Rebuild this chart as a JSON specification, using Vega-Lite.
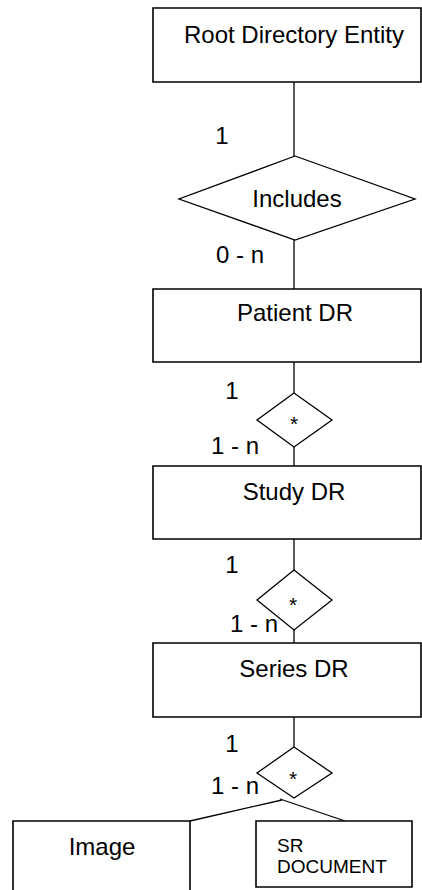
{
  "$schema": "https://vega.github.io/schema/vega-lite/v6.json",
  "width": 422,
  "height": 890,
  "padding": 0,
  "autosize": {"type": "none"},
  "background": "white",
  "config": {"view": {"stroke": null}, "font": "Liberation Sans"},
  "datasets": {
    "boxes": [
      {"name": "Root", "x": 153, "x2": 421, "y": 8, "y2": 82},
      {"name": "Patient", "x": 153, "x2": 421, "y": 289, "y2": 362},
      {"name": "Study", "x": 153, "x2": 421, "y": 466, "y2": 539},
      {"name": "Series", "x": 153, "x2": 421, "y": 643, "y2": 717},
      {"name": "Image", "x": 13, "x2": 190, "y": 821, "y2": 905},
      {"name": "SR", "x": 256, "x2": 412, "y": 821, "y2": 887}
    ],
    "links": [
      {"x": 294, "y": 82, "x2": 294, "y2": 156},
      {"x": 294, "y": 240, "x2": 294, "y2": 289},
      {"x": 294, "y": 362, "x2": 294, "y2": 393},
      {"x": 294, "y": 447, "x2": 294, "y2": 466},
      {"x": 294, "y": 539, "x2": 294, "y2": 570},
      {"x": 294, "y": 630, "x2": 294, "y2": 643},
      {"x": 294, "y": 717, "x2": 294, "y2": 747},
      {"x": 282, "y": 800, "x2": 190, "y2": 821},
      {"x": 280, "y": 799, "x2": 345, "y2": 821}
    ],
    "diamonds": [
      {"d": "inc", "o": 0, "x": 295, "y": 156},
      {"d": "inc", "o": 1, "x": 415, "y": 199},
      {"d": "inc", "o": 2, "x": 295, "y": 240},
      {"d": "inc", "o": 3, "x": 179, "y": 199},
      {"d": "inc", "o": 4, "x": 295, "y": 156},
      {"d": "d1", "o": 0, "x": 294, "y": 393},
      {"d": "d1", "o": 1, "x": 332, "y": 420},
      {"d": "d1", "o": 2, "x": 294, "y": 447},
      {"d": "d1", "o": 3, "x": 257, "y": 420},
      {"d": "d1", "o": 4, "x": 294, "y": 393},
      {"d": "d2", "o": 0, "x": 294, "y": 570},
      {"d": "d2", "o": 1, "x": 332, "y": 600},
      {"d": "d2", "o": 2, "x": 294, "y": 630},
      {"d": "d2", "o": 3, "x": 257, "y": 600},
      {"d": "d2", "o": 4, "x": 294, "y": 570},
      {"d": "d3", "o": 0, "x": 294, "y": 747},
      {"d": "d3", "o": 1, "x": 332, "y": 773},
      {"d": "d3", "o": 2, "x": 294, "y": 798},
      {"d": "d3", "o": 3, "x": 257, "y": 773},
      {"d": "d3", "o": 4, "x": 294, "y": 747}
    ],
    "labels": [
      {"t": "Root Directory Entity", "x": 294, "y": 36},
      {"t": "Includes", "x": 297, "y": 200},
      {"t": "Patient DR", "x": 295, "y": 314},
      {"t": "Study DR", "x": 294, "y": 493},
      {"t": "Series DR", "x": 294, "y": 670},
      {"t": "Image", "x": 102, "y": 848},
      {"t": "1", "x": 222, "y": 137},
      {"t": "0 - n", "x": 240, "y": 256},
      {"t": "1", "x": 232, "y": 392},
      {"t": "1 - n", "x": 235, "y": 447},
      {"t": "1", "x": 232, "y": 566},
      {"t": "1 - n", "x": 254, "y": 625},
      {"t": "1", "x": 232, "y": 745},
      {"t": "1 - n", "x": 235, "y": 787}
    ],
    "stars": [
      {"t": "*", "x": 294, "y": 425},
      {"t": "*", "x": 293, "y": 606},
      {"t": "*", "x": 293, "y": 780}
    ],
    "sr": [
      {"t": "SR", "x": 277, "y": 846},
      {"t": "DOCUMENT", "x": 277, "y": 867}
    ]
  },
  "encoding": {
    "x": {"field": "x", "type": "quantitative", "axis": null, "scale": {"domain": [0, 422], "range": [0, 422], "nice": false, "zero": false}},
    "y": {"field": "y", "type": "quantitative", "axis": null, "scale": {"domain": [0, 890], "range": [0, 890], "nice": false, "zero": false}}
  },
  "layer": [
    {
      "data": {"name": "links"},
      "mark": {"type": "rule", "stroke": "black", "strokeWidth": 1.3},
      "encoding": {"x2": {"field": "x2"}, "y2": {"field": "y2"}}
    },
    {
      "data": {"name": "boxes"},
      "mark": {"type": "rect", "fill": "white", "stroke": "black", "strokeWidth": 1.6, "clip": true},
      "encoding": {"x2": {"field": "x2"}, "y2": {"field": "y2"}}
    },
    {
      "data": {"name": "diamonds"},
      "mark": {"type": "line", "stroke": "black", "strokeWidth": 1.3, "strokeJoin": "miter"},
      "encoding": {"detail": {"field": "d"}, "order": {"field": "o", "type": "quantitative"}}
    },
    {
      "data": {"name": "labels"},
      "mark": {"type": "text", "fontSize": 24, "font": "Liberation Sans", "baseline": "middle", "align": "center", "color": "black"},
      "encoding": {"text": {"field": "t"}}
    },
    {
      "data": {"name": "stars"},
      "mark": {"type": "text", "fontSize": 21, "font": "Liberation Sans", "baseline": "middle", "align": "center", "color": "black"},
      "encoding": {"text": {"field": "t"}}
    },
    {
      "data": {"name": "sr"},
      "mark": {"type": "text", "fontSize": 19, "font": "Liberation Sans", "baseline": "middle", "align": "left", "color": "black"},
      "encoding": {"text": {"field": "t"}}
    }
  ]
}
